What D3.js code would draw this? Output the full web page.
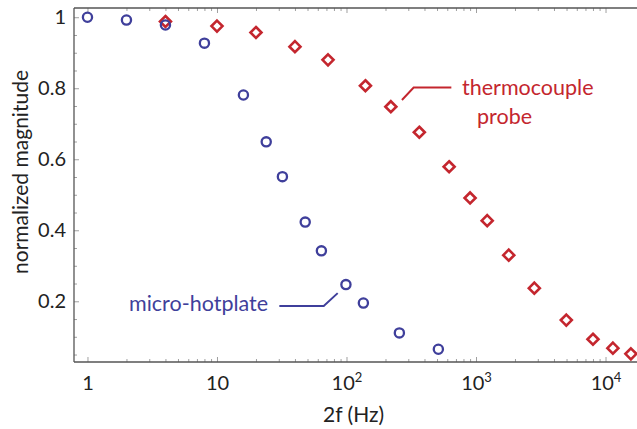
<!DOCTYPE html>
<html>
<head>
<meta charset="utf-8">
<script src="https://cdn.jsdelivr.net/npm/d3@7"></script>
<style>
  body { margin: 0; background: #fff; }
  text { font-family: Lato, "Open Sans", sans-serif; }
</style>
</head>
<body>
<div class="container"></div>
<script>
// frequency response data
var hotFreq = [1, 2, 4, 8, 16, 24, 32, 48, 64, 99, 135, 256, 512];
var hotMag = [1.0, 0.992, 0.978, 0.927, 0.781, 0.649, 0.551, 0.423, 0.342, 0.247, 0.195, 0.111, 0.065];

var thermoFreq = [4, 10, 20, 40, 72, 140, 220, 365, 620, 900, 1220, 1790, 2820, 4980, 8000, 11400, 15700];
var thermoMag = [0.988, 0.975, 0.957, 0.917, 0.880, 0.807, 0.748, 0.676, 0.579, 0.491, 0.427, 0.330, 0.237, 0.147, 0.093, 0.068, 0.052];

var xMajor = [1, 10, 100, 1000, 10000];
var xMajorLabels = [["1", ""], ["10", ""], ["10", "2"], ["10", "3"], ["10", "4"]];
var yMajor = [0.2, 0.4, 0.6, 0.8, 1];
var yMajorLabels = ["0.2", "0.4", "0.6", "0.8", "1"];

var opts = {
  width: 637,
  height: 429,
  left: 74,
  right: 637,
  top: 8,
  bottom: 362
};

var blue = "#3f3f9b";
var red = "#c4262e";
var axisColor = "#555";

var svg = d3.select('.container').append('svg')
  .attr('width', opts.width)
  .attr('height', opts.height);

var x = d3.scaleLog().domain([0.787, 17500]).range([opts.left, opts.right]);
var y = d3.scaleLinear().domain([0.029, 1.026]).range([opts.bottom, opts.top]);

// minor tick positions
var xMinor = [];
[1, 10, 100, 1000, 10000].forEach(function(d){
  for (var k = 2; k <= 9; k++) if (d * k < 17500) xMinor.push(d * k);
});
var yMinor = d3.range(0.05, 1.01, 0.05).filter(function(v){
  return yMajor.indexOf(+v.toFixed(2)) < 0;
});

function styleAxis(g){
  g.select('.domain').remove();
  g.selectAll('.tick line').attr('stroke', '#888').attr('stroke-width', 0.8);
}

// bottom axis: minor + major ticks pointing inward
svg.append('g').attr('transform', 'translate(0,' + opts.bottom + ')')
  .call(d3.axisBottom(x).tickValues(xMinor).tickSize(-3).tickFormat(''))
  .call(styleAxis);
var xAx = svg.append('g').attr('transform', 'translate(0,' + opts.bottom + ')')
  .call(d3.axisBottom(x).tickValues(xMajor).tickSize(-5).tickFormat(''))
  .call(styleAxis);

xAx.selectAll('.tick').each(function(d, i){
  var t = d3.select(this).append('text')
    .attr('y', 28)
    .attr('fill', '#222')
    .attr('font-size', 20)
    .attr('text-anchor', 'middle');
  t.append('tspan').text(xMajorLabels[i][0]);
  if (xMajorLabels[i][1]) {
    t.append('tspan').attr('dy', -8).attr('font-size', 13).text(xMajorLabels[i][1]);
  }
});

// top frame ticks pointing down
svg.append('g').attr('transform', 'translate(0,' + opts.top + ')')
  .call(d3.axisTop(x).tickValues(xMinor).tickSize(-3).tickFormat(''))
  .call(styleAxis);
svg.append('g').attr('transform', 'translate(0,' + opts.top + ')')
  .call(d3.axisTop(x).tickValues(xMajor).tickSize(-5).tickFormat(''))
  .call(styleAxis);

// left axis
svg.append('g').attr('transform', 'translate(' + opts.left + ',0)')
  .call(d3.axisLeft(y).tickValues(yMinor).tickSize(-3).tickFormat(''))
  .call(styleAxis);
svg.append('g').attr('transform', 'translate(' + opts.left + ',0)')
  .call(d3.axisLeft(y).tickValues(yMajor).tickSize(-5).tickPadding(8)
    .tickFormat(function(d, i){ return yMajorLabels[i]; }))
  .call(styleAxis)
  .selectAll('text')
  .attr('font-size', 20)
  .attr('fill', '#222')
  .attr('font-family', 'Lato, sans-serif');

// frame lines
svg.append('line').attr('x1', opts.left).attr('x2', opts.left)
  .attr('y1', opts.top).attr('y2', opts.bottom)
  .attr('stroke', axisColor).attr('stroke-width', 1.3);
svg.append('line').attr('x1', opts.left).attr('x2', opts.right)
  .attr('y1', opts.bottom).attr('y2', opts.bottom)
  .attr('stroke', axisColor).attr('stroke-width', 1.3);
svg.append('line').attr('x1', opts.left).attr('x2', opts.right)
  .attr('y1', opts.top).attr('y2', opts.top)
  .attr('stroke', axisColor).attr('stroke-width', 1.3);

// axis titles
svg.append('text')
  .attr('x', 323)
  .attr('y', 422)
  .attr('font-size', 21)
  .attr('fill', '#222')
  .text('2f (Hz)');

svg.append('text')
  .attr('transform', 'translate(28,172) rotate(-90)')
  .attr('text-anchor', 'middle')
  .attr('font-size', 21)
  .attr('fill', '#222')
  .text('normalized magnitude');

// thermocouple series: diamonds
var thermo = thermoFreq.map(function(f, i){ return {f: f, m: thermoMag[i]}; });
svg.append('g').selectAll('path')
  .data(thermo)
  .enter()
  .append('path')
  .attr('transform', function(d){ return 'translate(' + x(d.f) + ',' + y(d.m) + ')'; })
  .attr('d', 'M0,-5.5L5.5,0L0,5.5L-5.5,0Z')
  .attr('fill', 'none')
  .attr('stroke', red)
  .attr('stroke-width', 2.6);

// micro-hotplate series: circles
var hot = hotFreq.map(function(f, i){ return {f: f, m: hotMag[i]}; });
svg.append('g').selectAll('circle')
  .data(hot)
  .enter()
  .append('circle')
  .attr('cx', function(d){ return x(d.f); })
  .attr('cy', function(d){ return y(d.m); })
  .attr('r', 4.6)
  .attr('fill', 'none')
  .attr('stroke', blue)
  .attr('stroke-width', 2.3);

// annotations
var line = d3.line().x(function(d){ return x(d[0]); }).y(function(d){ return y(d[1]); });

svg.append('path')
  .attr('d', line([[268, 0.767], [330, 0.802], [645, 0.802]]))
  .attr('fill', 'none').attr('stroke', red).attr('stroke-width', 2);
svg.append('text')
  .attr('x', x(780)).attr('y', y(0.802) + 7)
  .attr('font-size', 21.5).attr('fill', red)
  .text('thermocouple');
svg.append('text')
  .attr('x', x(1018)).attr('y', y(0.72) + 7)
  .attr('font-size', 21.5).attr('fill', red)
  .text('probe');

svg.append('path')
  .attr('d', line([[30.3, 0.187], [66.7, 0.187], [85.5, 0.223]]))
  .attr('fill', 'none').attr('stroke', blue).attr('stroke-width', 2);
svg.append('text')
  .attr('x', x(24.8)).attr('y', y(0.192) + 7)
  .attr('text-anchor', 'end')
  .attr('font-size', 21.5).attr('fill', blue)
  .text('micro-hotplate');
</script>
</body>
</html>
